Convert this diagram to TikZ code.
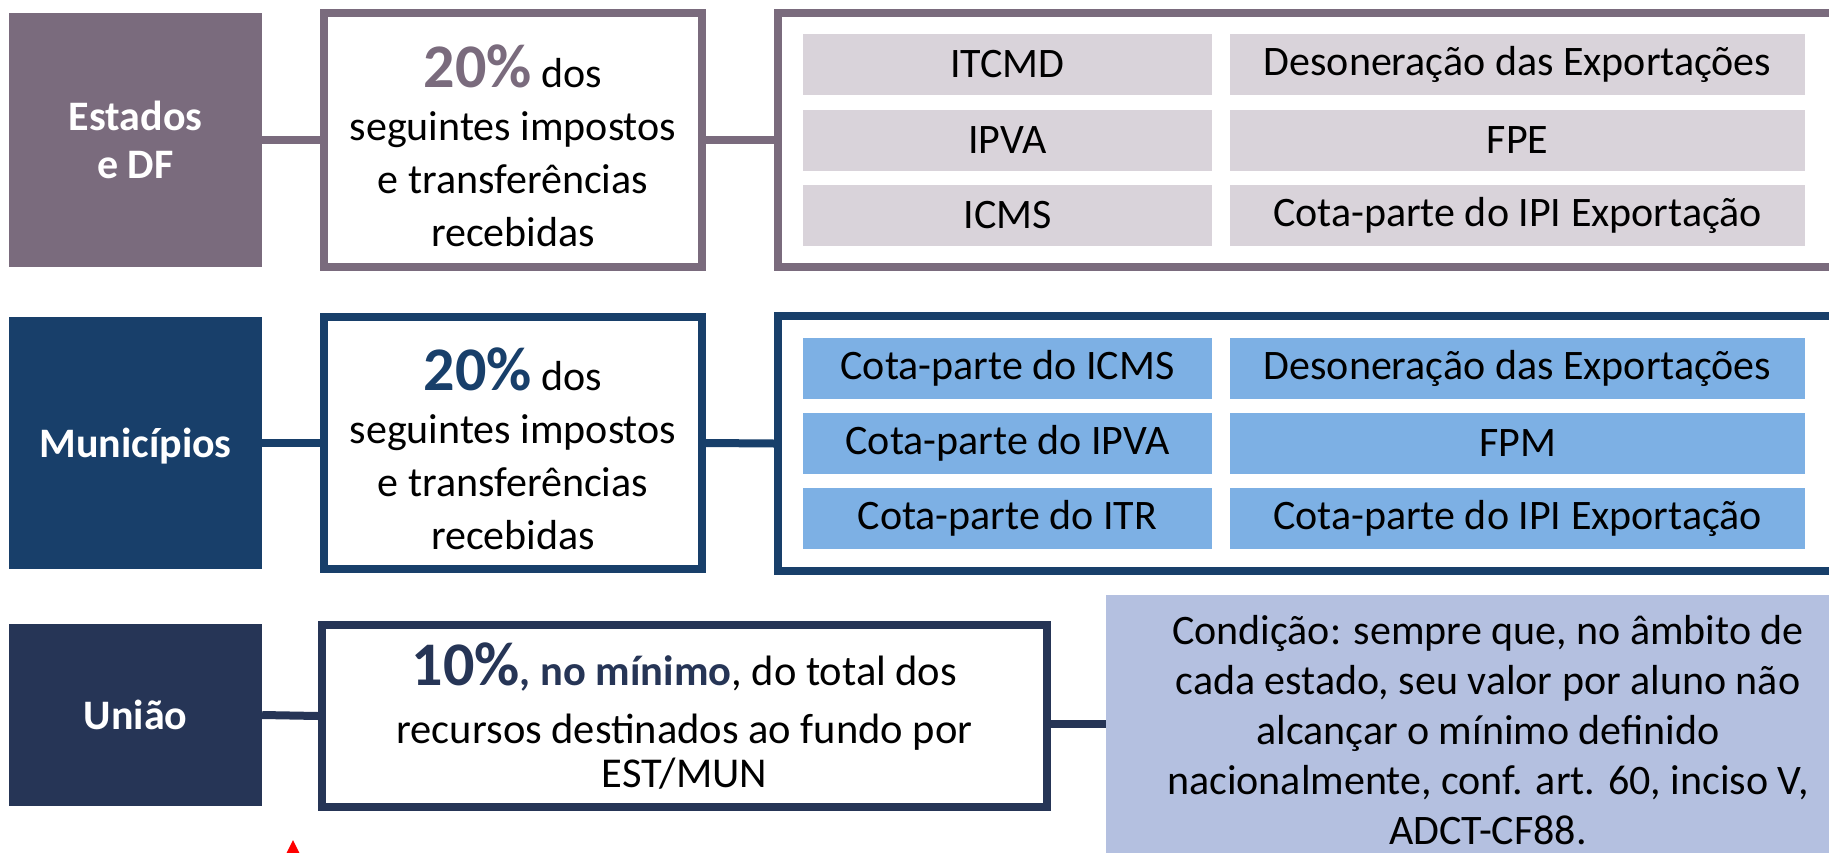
\documentclass[tikz,border=0pt]{standalone}
\usepackage{fontspec}
\setmainfont{Carlito}
\definecolor{estcolor}{HTML}{7A6B7D}
\definecolor{estcell}{HTML}{D9D3DA}
\definecolor{muncolor}{HTML}{183F6A}
\definecolor{muncell}{HTML}{7DB0E4}
\definecolor{unicolor}{HTML}{263556}
\definecolor{condcolor}{HTML}{B4C0E0}
\newcommand{\txtsize}{\fontsize{42}{53}\selectfont}
\newcommand{\pct}[2]{{\fontsize{62}{62}\selectfont\bfseries\color{#1}#2}}

\tikzset{
    entebox/.style={fill=#1, text=white, align=center, inner sep=0pt,
        font=\fontsize{42}{48}\selectfont\bfseries,
        minimum width=253pt},
    pctbox/.style={draw=#1, line width=7.5pt, fill=white, align=center,
        inner sep=0pt, font=\txtsize},
    pcttxt/.style={align=center, inner sep=0pt, font=\txtsize},
    listbox/.style={draw=#1, line width=7.5pt, fill=white, inner sep=0pt},
    cellbox/.style={fill=#1, inner sep=0pt, font=\txtsize,
        minimum height=61pt},
    link/.style={draw=#1, line width=8pt}
}

\begin{document}
\begin{tikzpicture}[x=1pt, y=-1pt]
    \useasboundingbox (0,0) rectangle (1829,852);
    \clip (0,0) rectangle (1829,852);

    \node[entebox=estcolor, minimum height=254pt] (est) at (135.5,140) {Estados\\e DF};
    \node[pctbox=estcolor, minimum width=378pt, minimum height=254pt] (est20) at (513,140) {};
    \node[pcttxt] (est20txt) at ([yshift=-6pt]est20.center)
        {\pct{estcolor}{20\%} dos\\seguintes impostos\\e transferências\\recebidas};
    \node[listbox=estcolor, minimum width=1092pt, minimum height=254pt] (estlist) at (1324,140) {};
    \foreach \txt [count=\i] in {ITCMD, IPVA, ICMS}
        \node[cellbox=estcell, minimum width=409pt] (estl\i) at (1007.5,{64.5+75.5*(\i-1)}) {\txt};
    \foreach \txt [count=\i] in {Desoneração das Exportações, FPE, Cota-parte do IPI Exportação}
        \node[cellbox=estcell, minimum width=575pt] (estr\i) at (1517.5,{64.5+75.5*(\i-1)}) {\txt};
    \draw[link=estcolor] (est.east) -- (est20.west);
    \draw[link=estcolor] (est20.east) -- (estlist.west);

    \node[entebox=muncolor, minimum height=252pt, text depth=0pt] (mun) at (135.5,443) {Municípios};
    \node[pctbox=muncolor, minimum width=378pt, minimum height=252pt] (mun20) at (513,443) {};
    \node[pcttxt] (mun20txt) at ([yshift=-6pt]mun20.center)
        {\pct{muncolor}{20\%} dos\\seguintes impostos\\e transferências\\recebidas};
    \node[listbox=muncolor, minimum width=1092pt, minimum height=255pt] (munlist) at (1324,443.5) {};
    \foreach \txt [count=\i] in {Cota-parte do ICMS, Cota-parte do IPVA, Cota-parte do ITR}
        \node[cellbox=muncell, minimum width=409pt] (munl\i) at (1007.5,{368.5+75*(\i-1)}) {\txt};
    \foreach \txt [count=\i] in {Desoneração das Exportações, FPM, Cota-parte do IPI Exportação}
        \node[cellbox=muncell, minimum width=575pt] (munr\i) at (1517.5,{368.5+75*(\i-1)}) {\txt};
    \draw[link=muncolor] (mun.east) -- (mun20.west);
    \draw[link=muncolor] (mun20.east) -- (munlist.west);

    \node[entebox=unicolor, minimum height=182pt] (uni) at (135.5,715) {União};
    \node[pctbox=unicolor, minimum width=725pt, minimum height=182pt,
        font=\fontsize{42.5}{44}\selectfont] (uni10) at (684.5,716)
        {\pct{unicolor}{10\%}{\bfseries\color{unicolor}, no mínimo}, do total dos\\[14pt]recursos destinados ao fundo por\\EST/MUN};
    \node[fill=condcolor, inner sep=0pt, align=center, font=\fontsize{42}{50}\selectfont,
        minimum width=764pt, minimum height=270pt] (cond) at (1488,730)
        {Condição: sempre que, no âmbito de\\cada estado, seu valor por aluno não\\alcançar o mínimo definido\\nacionalmente, conf. art. 60, inciso V,\\ADCT-CF88.};
    \coordinate (condin) at (1106,724);
    \draw[link=unicolor] (uni.east) -- (uni10.west);
    \draw[link=unicolor] (uni10.east |- condin) -- (condin);

    \fill[red] (293,840) -- (285,856) -- (301,856) -- cycle;
\end{tikzpicture}
\end{document}
